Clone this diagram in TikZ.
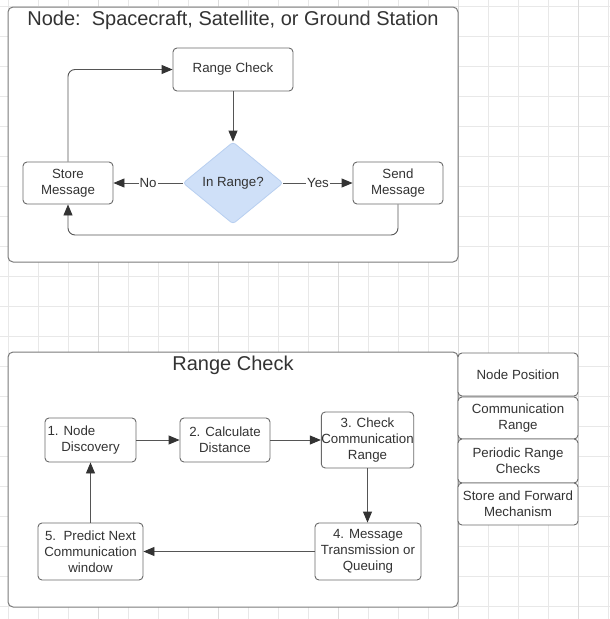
\documentclass[tikz,border=0pt]{standalone}
\usepackage{fontspec}
\setmainfont{Liberation Sans}
\usetikzlibrary{arrows.meta,shapes.geometric}
\definecolor{txt}{HTML}{333333}
\definecolor{edgec}{HTML}{6A6A6A}
\definecolor{framec}{HTML}{7A7A7A}
\definecolor{arrc}{HTML}{555555}
\definecolor{tipc}{HTML}{333333}
\definecolor{dfill}{HTML}{CFE0F8}
\definecolor{dline}{HTML}{B8CFF0}
\definecolor{gridc}{HTML}{E8E8E8}
\definecolor{gridm}{HTML}{DCDCDC}
\begin{document}
\begin{tikzpicture}[x=1pt,y=-1pt,
  box/.style={draw=edgec, line width=0.9pt, rounded corners=4pt, fill=white, text=txt,
    align=center, inner sep=0pt, font=\fontsize{13.3}{16}\selectfont},
  frame/.style={draw=framec, line width=1pt, rounded corners=5pt, fill=white, inner sep=0pt},
  ttl/.style={text=txt, font=\fontsize{20}{24}\selectfont, inner sep=0pt},
  conn/.style={draw=arrc, line width=0.9pt, -{Triangle[length=11pt,width=9pt,color=tipc]}},
  lbl/.style={fill=white, text=txt, inner sep=1pt, font=\fontsize{13.3}{16}\selectfont}
]
\useasboundingbox (0,0) rectangle (610,619);
\fill[white] (0,0) rectangle (610,619);
\foreach \i in {0,...,20} {\draw[gridc, line width=0.7pt] (8+30*\i,0) -- (8+30*\i,619);}
\foreach \j in {0,...,20} {\draw[gridc, line width=0.7pt] (0,6+30*\j) -- (610,6+30*\j);}
\foreach \i in {3,7,11,15,19} {\draw[gridm, line width=0.7pt] (8+30*\i,0) -- (8+30*\i,619);}

% ---------- top frame ----------
\node[frame, minimum width=450pt, minimum height=255pt] (f1) at (233,134.5) {};
\node[ttl] (t1) at (233,20) {Node:\ \ Spacecraft, Satellite, or Ground Station};

\node[box, minimum width=120pt, minimum height=43pt] (rc) at (233,69.5) {Range Check};
\node[diamond, draw=dline, fill=dfill, line width=0.8pt, rounded corners=3pt, aspect=1.22,
  minimum width=100pt, minimum height=82pt, inner sep=0pt, text=txt,
  font=\fontsize{13.3}{16}\selectfont] (dia) at (233,183) {In Range?};
\node[box, minimum width=90pt, minimum height=42pt] (store) at (68,183) {Store\\Message};
\node[box, minimum width=90pt, minimum height=42pt] (send) at (398,183) {Send\\Message};

\coordinate (bl) at (68,235);
\coordinate (tl) at (68,69.5);

\draw[conn] (rc.south) -- (dia.north);
\draw[conn] (dia.west) -- node[lbl] {No} (store.east);
\draw[conn] (dia.east) -- node[lbl] {Yes} (send.west);
\draw[conn, rounded corners=7pt] (send.south) |- (bl) -- (store.south);
\draw[conn, rounded corners=7pt] (store.north) -- (tl) -- (rc.west);

% ---------- bottom frame ----------
\node[frame, minimum width=450pt, minimum height=255pt] (f2) at (233,479.5) {};
\node[ttl] (t2) at (233,365) {Range Check};

\node[box, minimum width=91pt, minimum height=44pt] (b1) at (90.5,440) {1. Node\hspace*{38pt}\\Discovery};
\node[box, minimum width=90pt, minimum height=44pt] (b2) at (225,440) {2. Calculate\\Distance};
\node[box, minimum width=91pt, minimum height=56pt] (b3) at (367.5,440) {3. Check\\Communication\\Range};
\node[box, minimum width=106pt, minimum height=57pt] (b4) at (368,551.5) {4. Message\\Transmission or\\Queuing};
\node[box, minimum width=105pt, minimum height=57pt] (b5) at (90.5,551.5) {5.\ \ Predict Next\\Communication\\window};

\draw[conn] (b1.east) -- (b2.west);
\draw[conn] (b2.east) -- (b3.west);
\draw[conn] (b3.south) -- (b3.south |- b4.north);
\draw[conn] (b4.west) -- (b5.east);
\draw[conn] (b5.north) -- (b1.south);

% ---------- right stack ----------
\node[box, minimum width=120pt, minimum height=43pt] (r1) at (518,374.5) {Node Position};
\node[box, minimum width=120pt, minimum height=42pt] (r2) at (518,418) {Communication\\Range};
\node[box, minimum width=120pt, minimum height=44pt] (r3) at (518,461) {Periodic Range\\Checks};
\node[box, minimum width=120pt, minimum height=42pt] (r4) at (518,504) {Store and Forward\\Mechanism};
\end{tikzpicture}
\end{document}
